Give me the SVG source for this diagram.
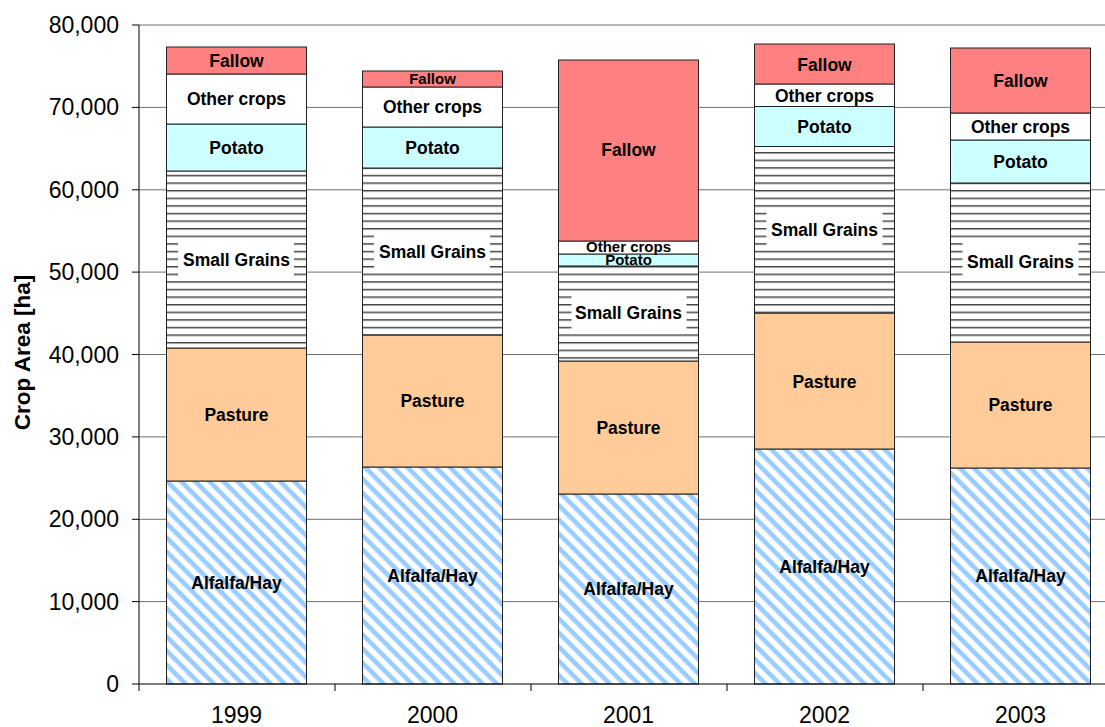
<svg xmlns="http://www.w3.org/2000/svg" width="1105" height="727" viewBox="0 0 1105 727">
  <defs>
    <!-- diagonal light-blue hatch for Alfalfa/Hay -->
    <pattern id="hatchAlfalfa" patternUnits="userSpaceOnUse" width="10" height="10" patternTransform="rotate(45)">
      <rect width="10" height="10" fill="#ffffff"/>
      <rect y="0" width="10" height="4.6" fill="#99ccff"/>
    </pattern>
    <!-- horizontal grey lines for Small Grains -->
    <pattern id="linesGrain" patternUnits="userSpaceOnUse" width="10" height="7.6">
      <rect width="10" height="7.6" fill="#ffffff"/>
      <rect y="0" width="10" height="1" fill="#444444"/>
      <rect y="1" width="10" height="1" fill="#999999"/>
    </pattern>
    <style>
      .seg { stroke: #222222; stroke-width: 1; }
      .fallow { fill: #ff8080; }
      .other { fill: #ffffff; }
      .potato { fill: #ccffff; }
      .grain { fill: url(#linesGrain); }
      .pasture { fill: #ffcc99; }
      .alfalfa { fill: url(#hatchAlfalfa); }
      .lbl { font-family: "Liberation Sans", Arial, sans-serif; font-weight: bold; font-size: 17.5px; text-anchor: middle; fill: #000000; }
      .lbl-sm { font-size: 15px; }
      .lblbox { fill: #ffffff; }
      .grid { stroke: #707070; stroke-width: 1; }
      .axis { stroke: #000000; stroke-width: 1; fill: none; }
      .tick { font-family: "Liberation Sans", Arial, sans-serif; font-size: 23px; fill: #000000; }
      .ytitle { font-family: "Liberation Sans", Arial, sans-serif; font-weight: bold; font-size: 22.5px; text-anchor: middle; fill: #000000; }
    </style>
  </defs>

  <rect width="1105" height="727" fill="#ffffff"/>

  <!-- horizontal gridlines -->
  <g id="gridlines">
    <line class="grid" x1="139" y1="25" x2="1105" y2="25"/>
    <line class="grid" x1="139" y1="107.4" x2="1105" y2="107.4"/>
    <line class="grid" x1="139" y1="189.8" x2="1105" y2="189.8"/>
    <line class="grid" x1="139" y1="272.1" x2="1105" y2="272.1"/>
    <line class="grid" x1="139" y1="354.5" x2="1105" y2="354.5"/>
    <line class="grid" x1="139" y1="436.9" x2="1105" y2="436.9"/>
    <line class="grid" x1="139" y1="519.3" x2="1105" y2="519.3"/>
    <line class="grid" x1="139" y1="601.6" x2="1105" y2="601.6"/>
  </g>

  <!-- 1999 -->
  <g id="bar-1999">
    <rect class="seg alfalfa" x="166.5" y="481" width="140" height="203"/>
    <rect class="seg pasture" x="166.5" y="348" width="140" height="133"/>
    <rect class="seg grain" x="166.5" y="171" width="140" height="177"/>
    <rect class="seg potato" x="166.5" y="124" width="140" height="47"/>
    <rect class="seg other" x="166.5" y="74" width="140" height="50"/>
    <rect class="seg fallow" x="166.5" y="47" width="140" height="27"/>
    <rect class="lblbox" x="178" y="241" width="116" height="38"/>
    <text class="lbl" x="236.5" y="588.5">Alfalfa/Hay</text>
    <text class="lbl" x="236.5" y="420.5">Pasture</text>
    <text class="lbl" x="236.5" y="265.5">Small Grains</text>
    <text class="lbl" x="236.5" y="153.5">Potato</text>
    <text class="lbl" x="236.5" y="105">Other crops</text>
    <text class="lbl" x="236.5" y="66.5">Fallow</text>
  </g>

  <!-- 2000 -->
  <g id="bar-2000">
    <rect class="seg alfalfa" x="362.5" y="467" width="140" height="217"/>
    <rect class="seg pasture" x="362.5" y="335" width="140" height="132"/>
    <rect class="seg grain" x="362.5" y="168" width="140" height="167"/>
    <rect class="seg potato" x="362.5" y="127" width="140" height="41"/>
    <rect class="seg other" x="362.5" y="87" width="140" height="40"/>
    <rect class="seg fallow" x="362.5" y="71" width="140" height="16"/>
    <rect class="lblbox" x="374" y="232.5" width="116" height="38"/>
    <text class="lbl" x="432.5" y="581.5">Alfalfa/Hay</text>
    <text class="lbl" x="432.5" y="407">Pasture</text>
    <text class="lbl" x="432.5" y="257.5">Small Grains</text>
    <text class="lbl" x="432.5" y="153.5">Potato</text>
    <text class="lbl" x="432.5" y="113">Other crops</text>
    <text class="lbl lbl-sm" x="432.5" y="84">Fallow</text>
  </g>

  <!-- 2001 -->
  <g id="bar-2001">
    <rect class="seg alfalfa" x="558.5" y="494" width="140" height="190"/>
    <rect class="seg pasture" x="558.5" y="361" width="140" height="133"/>
    <rect class="seg grain" x="558.5" y="266" width="140" height="95"/>
    <rect class="seg potato" x="558.5" y="254" width="140" height="12"/>
    <rect class="seg other" x="558.5" y="241" width="140" height="13"/>
    <rect class="seg fallow" x="558.5" y="60" width="140" height="181"/>
    <rect class="lblbox" x="571.5" y="296" width="115" height="36"/>
    <text class="lbl" x="628.5" y="595">Alfalfa/Hay</text>
    <text class="lbl" x="628.5" y="433.5">Pasture</text>
    <text class="lbl" x="628.5" y="319">Small Grains</text>
    <text class="lbl lbl-sm" x="628.5" y="265">Potato</text>
    <text class="lbl lbl-sm" x="628.5" y="251.5">Other crops</text>
    <text class="lbl" x="628.5" y="156">Fallow</text>
  </g>

  <!-- 2002 -->
  <g id="bar-2002">
    <rect class="seg alfalfa" x="754.5" y="449" width="140" height="235"/>
    <rect class="seg pasture" x="754.5" y="313" width="140" height="136"/>
    <rect class="seg grain" x="754.5" y="146.5" width="140" height="166.5"/>
    <rect class="seg potato" x="754.5" y="106.5" width="140" height="40"/>
    <rect class="seg other" x="754.5" y="84" width="140" height="22.5"/>
    <rect class="seg fallow" x="754.5" y="44" width="140" height="40"/>
    <rect class="lblbox" x="766.5" y="211" width="116" height="38"/>
    <text class="lbl" x="824.5" y="572.5">Alfalfa/Hay</text>
    <text class="lbl" x="824.5" y="387.5">Pasture</text>
    <text class="lbl" x="824.5" y="236">Small Grains</text>
    <text class="lbl" x="824.5" y="132.5">Potato</text>
    <text class="lbl" x="824.5" y="101.5">Other crops</text>
    <text class="lbl" x="824.5" y="70.5">Fallow</text>
  </g>

  <!-- 2003 -->
  <g id="bar-2003">
    <rect class="seg alfalfa" x="950.5" y="468" width="140" height="216"/>
    <rect class="seg pasture" x="950.5" y="342" width="140" height="126"/>
    <rect class="seg grain" x="950.5" y="183" width="140" height="159"/>
    <rect class="seg potato" x="950.5" y="140" width="140" height="43"/>
    <rect class="seg other" x="950.5" y="113" width="140" height="27"/>
    <rect class="seg fallow" x="950.5" y="48" width="140" height="65"/>
    <rect class="lblbox" x="962.5" y="243" width="116" height="38"/>
    <text class="lbl" x="1020.5" y="582">Alfalfa/Hay</text>
    <text class="lbl" x="1020.5" y="411">Pasture</text>
    <text class="lbl" x="1020.5" y="268">Small Grains</text>
    <text class="lbl" x="1020.5" y="167.5">Potato</text>
    <text class="lbl" x="1020.5" y="132.5">Other crops</text>
    <text class="lbl" x="1020.5" y="86.5">Fallow</text>
  </g>

  <!-- axes, ticks and tick labels -->
  <g id="axes">
    <line class="axis" x1="139" y1="25" x2="139" y2="684"/>
    <line class="axis" x1="139" y1="684" x2="1105" y2="684"/>
    <path class="axis" d="M132 25H139M132 107.4H139M132 189.8H139M132 272.1H139M132 354.5H139M132 436.9H139M132 519.3H139M132 601.6H139M132 684H139"/>
    <path class="axis" d="M139 684V691M335 684V691M531 684V691M727 684V691M923 684V691"/>
    <g class="tick" text-anchor="end">
      <text x="119" y="33">80,000</text>
      <text x="119" y="115.4">70,000</text>
      <text x="119" y="197.8">60,000</text>
      <text x="119" y="280.1">50,000</text>
      <text x="119" y="362.5">40,000</text>
      <text x="119" y="444.9">30,000</text>
      <text x="119" y="527.3">20,000</text>
      <text x="119" y="609.6">10,000</text>
      <text x="119" y="692">0</text>
    </g>
    <g class="tick" text-anchor="middle">
      <text x="236.5" y="723">1999</text>
      <text x="432.5" y="723">2000</text>
      <text x="628.5" y="723">2001</text>
      <text x="824.5" y="723">2002</text>
      <text x="1020.5" y="723">2003</text>
    </g>
    <text class="ytitle" transform="translate(29.5 352.5) rotate(-90)">Crop Area [ha]</text>
  </g>
</svg>
